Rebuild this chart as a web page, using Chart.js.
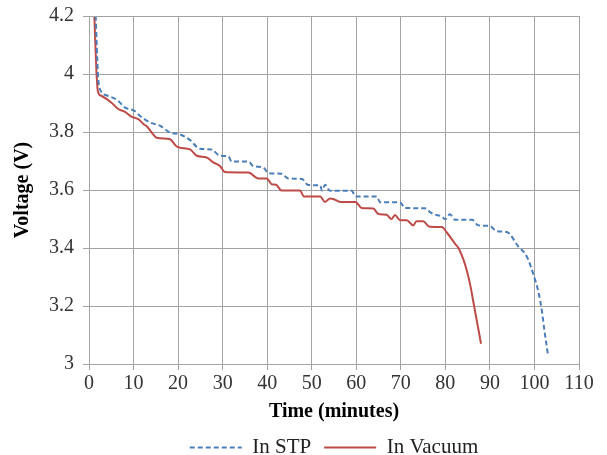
<!DOCTYPE html>
<html>
<head>
<meta charset="utf-8">
<script src="https://cdn.jsdelivr.net/npm/chart.js@4.4.1/dist/chart.umd.min.js"></script>
<style>
  html, body { margin: 0; padding: 0; background: #ffffff; }
  #wrap { width: 607px; height: 455px; position: relative; }
</style>
</head>
<body>
<div id="wrap"><canvas id="c"></canvas></div>
<script>
// ---- Data ----
const stpTime = [1.5, 2.0, 2.4, 4.2, 6.5, 8, 10.2, 11.4, 13.7, 16, 18.2, 20.4, 22.7, 24.9, 27.5, 29.4, 31.3, 32, 35.8, 36.9, 39.1, 40.3, 43.2, 44.7, 47.8, 49.2, 51.9, 52.3, 53, 54.1, 59, 59.8, 64.6, 65.3, 69.8, 70.9, 75.4, 76.9, 79.2, 80, 81, 82.2, 86, 87.4, 90, 91.5, 93.8, 96.4, 98.3, 99.8, 100.9, 101.7, 102.2, 103];
const stpVoltage = [4.2, 4.0, 3.95, 3.925, 3.908, 3.885, 3.873, 3.856, 3.833, 3.821, 3.798, 3.792, 3.772, 3.742, 3.74, 3.718, 3.716, 3.698, 3.698, 3.682, 3.678, 3.658, 3.656, 3.64, 3.638, 3.617, 3.616, 3.598, 3.618, 3.597, 3.597, 3.578, 3.578, 3.558, 3.558, 3.538, 3.537, 3.52, 3.508, 3.499, 3.516, 3.497, 3.497, 3.478, 3.476, 3.458, 3.455, 3.405, 3.37, 3.307, 3.248, 3.18, 3.12, 3.035];

const vacTime = [1.2, 1.7, 2.0, 2.75, 5, 6.5, 8, 9.5, 11, 12.5, 12.9, 14.4, 15.2, 17.4, 18.2, 19.7, 20.4, 22.7, 24.2, 26.4, 27.9, 29.4, 30.5, 35.8, 38, 39.9, 41, 42, 43.2, 47.4, 48.2, 51.9, 53, 54.1, 55, 56.4, 59.8, 61.2, 63.8, 65, 66.8, 67.9, 68.7, 69.8, 71.3, 72.8, 73.5, 75, 76.5, 79.2, 80.5, 82.2, 83, 84.1, 84.8, 85.6, 86.3, 86.7, 87.4, 88];
const vacVoltage = [4.2, 4.0, 3.94, 3.925, 3.902, 3.88, 3.87, 3.853, 3.845, 3.824, 3.821, 3.792, 3.78, 3.777, 3.775, 3.75, 3.746, 3.74, 3.718, 3.712, 3.695, 3.683, 3.662, 3.66, 3.64, 3.64, 3.62, 3.618, 3.598, 3.598, 3.578, 3.578, 3.559, 3.571, 3.568, 3.559, 3.559, 3.538, 3.536, 3.517, 3.515, 3.50, 3.514, 3.496, 3.496, 3.478, 3.492, 3.492, 3.473, 3.472, 3.45, 3.414, 3.398, 3.358, 3.323, 3.271, 3.213, 3.179, 3.121, 3.07];

const seriesNames = ['In STP', 'In Vacuum'];
const xTickValues = [0, 10, 20, 30, 40, 50, 60, 70, 80, 90, 100, 110];
const yTickValues = [3, 3.2, 3.4, 3.6, 3.8, 4, 4.2];
const xTitle = 'Time (minutes)';
const yTitle = 'Voltage (V)';

const toPoints = (xs, ys) => xs.map((x, i) => ({ x: x, y: ys[i] }));

const FONT = "'Liberation Serif', 'Times New Roman', serif";
const GRID = '#a3a3a3';

new Chart(document.getElementById('c'), {
  type: 'line',
  data: {
    datasets: [
      {
        label: seriesNames[0],
        data: toPoints(stpTime, stpVoltage),
        borderColor: '#4a7ebb',
        backgroundColor: '#4a7ebb',
        borderWidth: 2,
        borderDash: [5, 3],
        pointRadius: 0,
        cubicInterpolationMode: 'monotone',
        fill: false
      },
      {
        label: seriesNames[1],
        data: toPoints(vacTime, vacVoltage),
        borderColor: '#be4b48',
        backgroundColor: '#be4b48',
        borderWidth: 2,
        pointRadius: 0,
        cubicInterpolationMode: 'monotone',
        fill: false
      }
    ]
  },
  options: {
    responsive: true,
    maintainAspectRatio: false,
    animation: false,
    devicePixelRatio: 1,
    layout: { padding: { left: 0, right: 28, top: 0, bottom: -13 } },
    plugins: {
      tooltip: { enabled: false },
      legend: {
        position: 'bottom',
        fullSize: false,
        labels: {
          usePointStyle: true,
          pointStyle: 'line',
          pointStyleWidth: 52,
          padding: 13,
          color: '#222',
          font: { family: FONT, size: 21 },
          generateLabels: (chart) => chart.data.datasets.map((ds, i) => ({
            text: ds.label,
            strokeStyle: ds.borderColor,
            fillStyle: ds.borderColor,
            lineWidth: ds.borderWidth,
            lineDash: ds.borderDash || [],
            pointStyle: 'line',
            fontColor: '#222',
            hidden: false,
            datasetIndex: i
          }))
        }
      }
    },
    scales: {
      x: {
        type: 'linear',
        min: 0,
        max: 110,
        afterBuildTicks: (axis) => { axis.ticks = xTickValues.map(v => ({ value: v })); },
        afterFit: (axis) => { axis.height = 60; },
        ticks: { color: '#333', font: { family: FONT, size: 20 }, padding: 2, maxRotation: 0 },
        grid: { color: GRID, lineWidth: 1, tickLength: 6 },
        border: { color: GRID },
        title: { display: true, text: xTitle, color: '#000', font: { family: FONT, size: 20, weight: 'bold' }, padding: { top: 0, bottom: 0 } }
      },
      y: {
        min: 3,
        max: 4.2,
        afterBuildTicks: (axis) => { axis.ticks = yTickValues.map(v => ({ value: v })); },
        afterFit: (axis) => { axis.width = 89; axis.paddingTop = 16; axis.paddingBottom = 12; },
        ticks: { color: '#333', font: { family: FONT, size: 20 }, padding: 9, callback: (v) => String(+Number(v).toFixed(1)) },
        grid: { color: GRID, lineWidth: 1, tickLength: 6 },
        border: { color: GRID },
        title: { display: true, text: yTitle, color: '#000', font: { family: FONT, size: 20, weight: 'bold' }, padding: { top: 11, bottom: 0 } }
      }
    }
  },
  plugins: [{
    id: 'topRightBorder',
    afterDraw(chart) {
      const a = chart.chartArea, ctx = chart.ctx;
      ctx.save();
      ctx.strokeStyle = GRID;
      ctx.lineWidth = 1;
      ctx.beginPath();
      ctx.moveTo(a.left, a.top + 0.5);
      ctx.lineTo(a.right + 0.5, a.top + 0.5);
      ctx.lineTo(a.right + 0.5, a.bottom);
      ctx.stroke();
      ctx.restore();
    }
  }]
});
</script>
</body>
</html>
